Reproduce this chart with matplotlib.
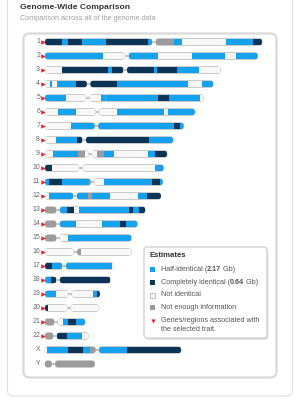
import matplotlib
matplotlib.use('Agg')
import matplotlib.pyplot as plt
from matplotlib.patches import FancyBboxPatch, Rectangle

plt.rcParams['font.family'] = ['Liberation Sans', 'DejaVu Sans']

# data (Mb)
chrom_names = [str(i) for i in range(1, 23)] + ['X', 'Y']
chrom_lengths = [249, 244, 201, 193, 182, 172, 159, 147, 140, 136, 135, 133,
                 115, 106, 99, 99, 79, 75, 63, 62, 46, 50, 156, 57]
centromeres = [125, 94, 92, 50, 49, 60, 59, 45, 52, 41, 54.5, 34.5,
               15, 15, 15, 35, 22, 15, 28.7, 27.5, 12.6, 11.5, 60, 9.7]
# H = half identical, C = completely identical, N = not identical, U = no info
seg_ends = [
    [19.5, 26.4, 42.4, 70, 118, 125, 148, 157, 207.6, 238.6, 249],
    [66.5, 94, 129.6, 168.6, 206.5, 218.7, 244],
    [19.5, 72.3, 76.8, 125, 128.5, 151.4, 176.6, 201],
    [5.7, 8, 13.8, 35.6, 82.6, 164, 180, 193],
    [24.1, 64.2, 68.8, 70.5, 129.3, 142.6, 177.8, 182],
    [14.9, 35.6, 82.6, 136.5, 141.1, 172],
    [29.8, 148, 154.8, 159],
    [12.6, 36.7, 119.3, 147],
    [9.2, 37.9, 45.9, 59.6, 67.7, 79.1, 118.1, 126.2, 140],
    [8, 126.2, 136],
    [4.9, 19.8, 50.5, 52.8, 68, 122.4, 131.9, 135],
    [4.6, 32.5, 34.5, 49.7, 53.6, 74.6, 107, 116.6, 133],
    [15, 24.9, 33.3, 39.3, 96.7, 101.3, 108.2, 115],
    [15, 35.6, 65, 86, 92.9, 106],
    [15, 26, 99],
    [36.7, 41, 99],
    [8.4, 76.5, 79],
    [6.5, 75],
    [12.6, 54.7, 59.3, 63],
    [3.8, 62],
    [12.6, 20.3, 26.7, 35.2, 46],
    [11.5, 24.9, 42.1, 50],
    [2, 26.7, 43.9, 51.6, 60, 93.7, 156],
    [57],
]
seg_states = ['CHCHCHUHNHC', 'HNHNHNH', 'NCHCHCHN', 'NHNHCHNH', 'HNHUHCHN',
              'NHNHNH', 'NHCH', 'NHCH', 'NHUNUHNHC', 'CNH', 'HCHUNHCH',
              'NHNHUHNHC', 'UHCNHCHC', 'UHNHCH', 'UNH', 'NUN', 'CHN', 'HC',
              'HNHC', 'CN', 'UNHCH', 'UCHN', 'NHCHUHC', 'U']
trait_marked = [True] * 22 + [False, False]

colors = {'H': '#14a2f0', 'C': '#0c3457', 'N': '#f8f8f8', 'U': '#9b9b9b'}
legend_labels = [[('Half-identical (', 'normal'), ('2.17', 'bold'), (' Gb)', 'normal')],
                 [('Completely identical (', 'normal'), ('0.64', 'bold'), (' Gb)', 'normal')],
                 [('Not identical', 'normal')],
                 [('Not enough information', 'normal')]]
legend_keys = ['H', 'C', 'N', 'U']

fig = plt.figure(figsize=(3, 4), dpi=100)

# background / decoration in pixel units
deco = fig.add_axes([0, 0, 1, 1], zorder=0)
deco.set_xlim(0, 300)
deco.set_ylim(400, 0)
deco.axis('off')
deco.add_patch(FancyBboxPatch((7.5, -20), 285, 416, boxstyle='round,pad=0,rounding_size=6',
                              fc='white', ec='#e0e0e0', lw=0.8))
deco.add_patch(FancyBboxPatch((23.5, 33.5), 253, 344, boxstyle='round,pad=0,rounding_size=6',
                              fc='white', ec='#d9d9d9', lw=1.6))
deco.text(20, 7.5, 'Genome-Wide Comparison', fontsize=6.1, fontweight='bold',
          color='#333333', va='center')
deco.text(20, 18.5, 'Comparison across all of the genome data', fontsize=5.2,
          color='#a0a0a0', va='center')

# legend
deco.add_patch(FancyBboxPatch((145.5, 249), 123, 91, boxstyle='round,pad=0,rounding_size=3',
                              fc='black', ec='none', alpha=0.10))
deco.add_patch(FancyBboxPatch((144, 247), 123, 91, boxstyle='round,pad=0,rounding_size=3',
                              fc='white', ec='#c8c8c8', lw=0.8))
deco.text(150, 255.5, 'Estimates', fontsize=5.6, fontweight='bold', color='#333333', va='center')
renderer = fig.canvas.get_renderer()
item_y = [269.5, 282.5, 295, 307.8]
for key, parts, yy in zip(legend_keys, legend_labels, item_y):
    deco.add_patch(Rectangle((150, yy - 2.5), 5, 5, fc=colors[key],
                             ec='#aaaaaa' if key == 'N' else 'none', lw=0.5))
    x = 161
    for s, w in parts:
        t = deco.text(x, yy, s, fontsize=5.2, fontweight=w, color='#555555', va='center')
        bb = t.get_window_extent(renderer)
        x = deco.transData.inverted().transform((bb.x1, bb.y0))[0]
deco.plot(152.5, 320.5, marker='v', color='#e8202a', ms=3, mew=0)
deco.text(161, 320.5, 'Genes/regions associated with', fontsize=5.2, color='#555555', va='center')
deco.text(161, 329.5, 'the selected trait.', fontsize=5.2, color='#555555', va='center')

# chromosome axes: x in Mb (1 px = 1.147 Mb, Mb 0 at px 45), y in rows
mb_px = 1.147
ax = fig.add_axes([23 / 300, 1 - 378 / 400, 254 / 300, 345 / 400], zorder=1)
ax.patch.set_visible(False)
ax.set_xlim((23 - 45) * mb_px, (277 - 45) * mb_px)
ax.set_ylim((378 - 42) / 14, (33 - 42) / 14)
ax.axis('off')

h = 0.48
r = 3.8
asp = (h / 2) / r
gap = 2.0

for i, name in enumerate(chrom_names):
    y = i
    L = chrom_lengths[i]
    cen = centromeres[i]
    arms = [(0, cen - gap), (cen + gap, L)]
    # thin neck at the centromere
    ax.plot([cen - gap - 1, cen + gap + 1], [y, y], color='#b8b8b8', lw=1.2, zorder=0.5,
            solid_capstyle='butt')
    arm_patches = []
    for a0, a1 in arms:
        rs = min(r, (a1 - a0) / 2)
        p = FancyBboxPatch((a0, y - h / 2), a1 - a0, h,
                           boxstyle='round,pad=0,rounding_size=%.3f' % rs,
                           mutation_aspect=asp, fc='white', ec='#bdbdbd', lw=0.6, zorder=1)
        ax.add_patch(p)
        arm_patches.append(p)
    start = 0
    for end, st in zip(seg_ends[i], seg_states[i]):
        for (a0, a1), p in zip(arms, arm_patches):
            s0, s1 = max(start, a0), min(end, a1)
            if s1 > s0:
                bars = ax.barh(y, s1 - s0, left=s0, height=h, color=colors[st],
                               lw=0, zorder=2)
                bars[0].set_clip_path(p)
        start = end
    ax.text(-5.6, y, name, ha='right', va='center', fontsize=5, color='#666666')
    if trait_marked[i]:
        ax.plot(-2.6, y, marker='>', color='#e8202a', ms=3.2, mew=0, zorder=3)

fig.savefig('out.png', dpi=100)
